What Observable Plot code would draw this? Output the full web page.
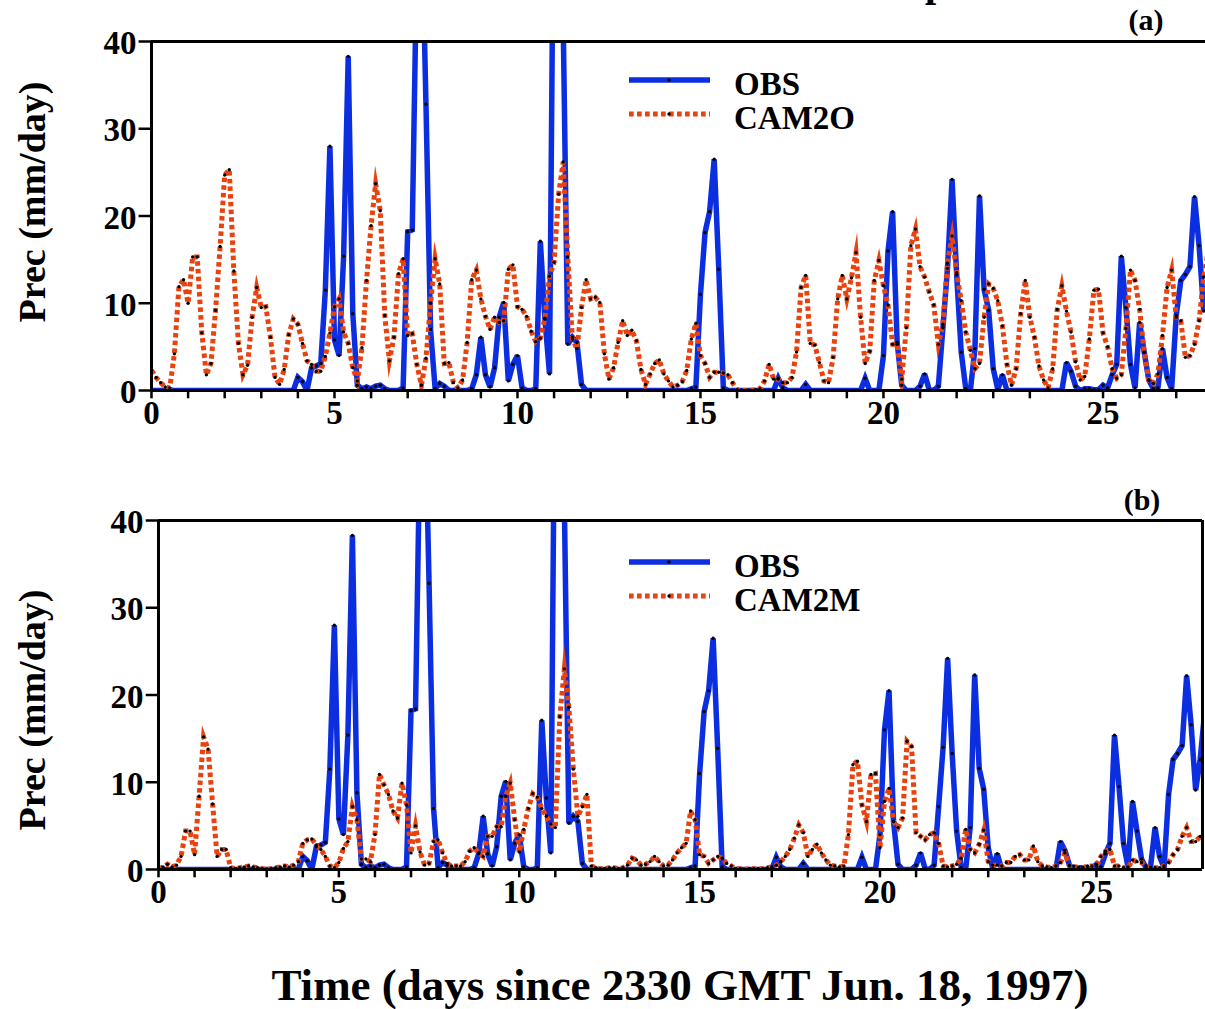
<!DOCTYPE html>
<html>
<head>
<meta charset="utf-8">
<script src="https://cdn.jsdelivr.net/npm/d3@7"></script>
<script src="https://cdn.jsdelivr.net/npm/@observablehq/plot@0.6"></script>
<style>
  body { margin: 0; background: #fff; }
  #wrap { position: relative; width: 1205px; height: 1009px; overflow: hidden; background: #fff; }
  #wrap > svg { position: absolute; left: 0; }
</style>
</head>
<body>
<div id="wrap"></div>
<script>
// ---------------- data (3-hourly precipitation, mm/day) ----------------
const stepDays = 3 / 24;   // one sample every 3 hours

const obs = [
  0,0,0,0,0,0,0,0,
  0,0,0,0,0,0,0,0,
  0,0,0,0,0,0,0,0,
  0,0,0,0,0,0,0,0,
  1.5,1.0,0,2.6,2.8,3.1,11.5,28.0,
  5.8,4.0,15.4,38.3,8.8,0.6,0.2,0.4,
  0.2,0.5,0.6,0.2,0,0,0,0.3,
  18.2,18.4,50,56,32.8,7.0,0.2,0.8,
  0.5,0,0,0,0,0,0.2,1.8,
  6.1,1.8,0.4,2.6,8.4,10.1,1.1,3.0,
  4.0,0.3,0,0,0.2,17.1,8.2,1.9,
  65,80,42,5.3,6.1,5.5,0.7,0,
  0,0,0,0,0,0,0,0,
  0,0,0,0,0,0,0,0,
  0,0,0,0,0,0,0.2,0.4,
  11.0,18.1,20.5,26.5,13.9,0.3,0,0,
  0,0,0,0,0,0,0,0,
  0,1.4,0.3,0,0,0,0,0.7,
  0,0,0,0,0,0,0,0,
  0,0,0,0,1.4,0,0,0,
  4.0,16.0,20.5,5.5,0.6,0,0,0,
  0.5,1.9,0.1,0,0.5,7.2,14.0,24.2,
  13.3,4.4,0.2,0,4.8,22.3,11.6,9.2,
  2.5,0.1,1.8,0,0,0,0,0,
  0,0,0,0,0,0,0,0,
  3.2,2.2,0.5,0,0.2,0.2,0.1,0.1,
  0.6,0.3,1.8,3.0,15.4,9.5,3.0,0.3,
  7.8,4.4,1.2,0.2,0.3,4.8,1.5,0.2,
  8.6,12.6,13.3,14.2,22.2,16.6,9.1,12.6,
  18.0
];

const cam2o = [
  2.3,1.5,0.9,0.4,0.3,4.2,11.9,12.7,
  10.0,15.3,15.3,6.6,1.8,3.1,9.2,16.5,
  24.7,25.3,13.7,5.4,1.8,2.9,8.4,11.8,
  9.5,9.6,6.1,1.5,0.7,2.4,6.4,8.2,
  7.6,5.4,3.4,3.0,2.2,2.2,3.9,6.6,
  9.6,10.5,6.7,5.4,2.6,1.1,4.9,12.6,
  18.9,23.7,20.6,8.6,3.4,6.1,13.4,15.1,
  6.3,6.5,3.0,0.6,3.7,10.0,15.1,12.2,
  3.1,3.2,0.9,0.3,1.2,5.5,12.7,13.8,
  10.5,8.5,7.0,8.4,7.8,8.0,13.9,14.4,
  9.6,9.3,8.5,6.8,5.6,6.0,8.3,13.1,
  14.7,22.5,26.2,15.3,5.9,4.8,9.5,12.7,
  10.5,10.7,10.1,4.2,1.3,2.6,5.5,8.0,
  6.3,6.9,5.7,2.4,0.7,1.9,3.1,3.5,
  1.9,1.1,0.4,0.6,1.0,2.3,5.9,7.7,
  4.0,3.1,1.5,2.1,2.1,2.0,1.8,0.9,
  0.1,0,0,0,0.1,0.2,1.1,3.0,
  1.3,1.3,0.9,0.9,1.5,4.4,11.8,13.2,
  5.4,5.2,3.2,1.1,0.9,3.8,10.5,13.2,
  10.5,12.9,15.8,8.4,3.1,4.5,12.6,14.9,
  12.0,9.8,5.3,5.3,1.3,7.2,16.6,18.5,
  14.2,13.0,11.3,9.8,5.3,7.6,14.6,17.7,
  13.5,10.3,6.7,4.6,2.5,3.1,8.4,12.2,
  11.7,10.3,7.4,3.0,0.6,2.5,8.8,12.6,
  8.4,6.1,2.8,1.2,0.3,2.5,9.3,12.0,
  9.1,6.7,3.3,1.2,1.6,5.9,11.5,11.6,
  6.6,5.0,2.5,1.4,1.8,7.1,13.8,12.6,
  9.3,4.4,1.2,0.8,1.9,6.3,11.8,13.8,
  8.4,8.0,3.8,4.0,5.3,8.0,13.0,16.0,
  15.0
];

const cam2m = [
  0.1,0.3,0.6,0.3,0.5,1.5,4.4,4.4,
  1.7,8.4,15.2,13.8,7.5,1.5,2.3,2.3,
  0.2,0.1,0.2,0.3,0.4,0.3,0.2,0.1,
  0,0.1,0.2,0.3,0.4,0.3,0.5,0.9,
  3.0,3.4,3.5,2.8,2.3,1.5,0.4,0.2,
  0.8,2.4,3.2,7.2,5.7,1.2,1.2,0.9,
  4.0,10.9,9.7,8.6,6.7,5.9,9.9,7.4,
  1.9,5.0,2.0,0.5,0.7,3.2,3.4,1.9,
  0.7,0.4,0.4,0.4,0.9,2.1,2.5,1.9,
  1.5,3.8,3.8,4.9,4.9,8.4,9.9,5.7,
  2.0,4.6,7.0,8.7,8.3,7.0,6.1,5.2,
  4.8,17.5,23.0,18.6,11.5,6.1,7.2,8.6,
  0.4,0.2,0.1,0.1,0.2,0.2,0.1,0.2,
  0.5,1.3,1.1,0.5,0.6,0.9,1.5,0.9,
  0.4,0.5,1.1,1.9,2.5,3.0,6.7,5.7,
  1.7,1.5,0.7,1.1,1.5,1.3,0.7,0.4,
  0.1,0.1,0,0.1,0.1,0.1,0.1,0.2,
  0.3,0.5,0.9,1.5,2.3,3.6,5.1,4.2,
  1.5,2.3,2.9,1.9,1.1,0.5,0.4,0.3,
  0.4,4.0,12.0,12.4,7.4,5.5,10.9,11.0,
  2.5,7.8,9.3,5.5,4.8,5.9,14.7,14.1,
  4.2,3.8,3.4,4.0,4.2,3.0,0.4,0.3,
  0.4,0.6,1.3,4.6,2.3,1.9,2.9,4.5,
  0.9,0.5,0.5,0.4,0.8,0.8,1.5,1.7,
  1.1,1.1,2.7,0.9,0.4,0.3,0.2,0.4,
  0.8,1.9,0.4,0.4,0.2,0.2,0.4,0.4,
  0.4,1.5,2.1,2.3,0.4,0.4,0.2,0.2,
  1.1,0.9,0.8,0.4,0.2,0.2,0.2,0.4,
  0.8,1.7,2.3,3.8,4.8,3.2,3.2,3.8,
  4.0
];

const yTicks = [0, 10, 20, 30, 40];
const xMinorTicks = [0,1,2,3,4,5,6,7,8,9,10,11,12,13,14,15,16,17,18,19,20,21,22,23,24,26,27,28];
const xTickLabelPos = [0, 5, 10, 15, 20, 26];
const xTickLabels = ["0", "5", "10", "15", "20", "25"];
const seriesNames = { obs: "OBS", a: "CAM2O", b: "CAM2M" };
const panelTags = ["(a)", "(b)"];
const yTitle = "Prec (mm/day)";
const xTitle = "Time (days since 2330 GMT Jun. 18, 1997)";
const titleText = "Precipitation";

// ---------------- style ----------------
const BLUE = "#0b2ee0";
const RED = "#e8430f";
const FONT = '"Liberation Serif", "Times New Roman", serif';

function panel(model, xMax, marginLeft, marginRight, marginTop, rightBorder) {
  const rows = obs.map((v, i) => ({ t: i * stepDays, obs: v, model: model[i] }));
  const labelRows = xTickLabelPos.map((p, i) => ({ p, s: xTickLabels[i] }));
  const marks = [
    Plot.line(rows, { x: "t", y: "obs", stroke: BLUE, strokeWidth: 5.5, strokeLinejoin: "miter", strokeMiterlimit: 3, strokeLinecap: "butt", clip: true }),
    Plot.line(rows, { x: "t", y: "model", stroke: RED, strokeWidth: 5, strokeDasharray: "4.5,3.2", strokeLinejoin: "miter", strokeMiterlimit: 10, strokeLinecap: "butt", clip: true }),
    Plot.dot(rows, { x: "t", y: "obs", r: 1.7, fill: "black", stroke: null, clip: true }),
    Plot.dot(rows, { x: "t", y: "model", r: 1.7, fill: "black", stroke: null, clip: true }),
    Plot.ruleY([0, 40], { stroke: "black", strokeWidth: 3 }),
    Plot.ruleX([0], { stroke: "black", strokeWidth: 3 }),
    Plot.ruleX(xMinorTicks, { x: d => d, y1: 0, y2: -0.95, stroke: "black", strokeWidth: 2.5 }),
    Plot.ruleY(yTicks, { y: d => d, x1: -0.34, x2: 0, stroke: "black", strokeWidth: 2.5 }),
    Plot.text(labelRows, { x: "p", y: 0, text: "s", lineAnchor: "top", dy: 10, fontSize: 33, fontWeight: "bold", fontFamily: FONT, fill: "black" }),
    Plot.text(yTicks, { x: 0, y: d => d, text: d => String(d), textAnchor: "end", dx: -15, dy: 2, fontSize: 33, fontWeight: "bold", fontFamily: FONT, fill: "black" })
  ];
  if (rightBorder) marks.push(Plot.ruleX([xMax], { stroke: "black", strokeWidth: 3 }));
  return Plot.plot({
    width: 1205,
    height: marginTop + 349 + 50,
    marginTop, marginBottom: 50, marginLeft, marginRight,
    x: { domain: [0, xMax], axis: null },
    y: { domain: [0, 40], axis: null },
    style: { background: "transparent", overflow: "visible" },
    marks
  });
}

const wrap = document.getElementById("wrap");
const pa = panel(cam2o, 28.8, 151, 0, 41, false);
pa.style.top = "0px";
wrap.appendChild(pa);
const pb = panel(cam2m, 28.94, 158, 3, 40, true);
pb.style.top = "480px";
wrap.appendChild(pb);

// ---------------- overlay: legends, tags, axis titles ----------------
const ov = d3.select(wrap).append("svg")
  .attr("width", 1205).attr("height", 1009)
  .style("top", "0px").style("pointer-events", "none")
  .attr("font-family", FONT).attr("font-weight", "bold");

// figure title, cut by the top edge of the page as in the original figure
const title = ov.append("text").attr("y", -4).attr("font-size", 40).text(titleText);
const pOffset = title.node().getSubStringLength(0, 5);
title.attr("x", 925 - pOffset);

function legend(yTop, modelName) {
  const g = ov.append("g");
  g.append("line").attr("x1", 629).attr("x2", 710).attr("y1", yTop).attr("y2", yTop)
    .attr("stroke", BLUE).attr("stroke-width", 5.5);
  g.append("circle").attr("cx", 669).attr("cy", yTop).attr("r", 1.7).attr("fill", "black");
  g.append("line").attr("x1", 629).attr("x2", 710).attr("y1", yTop + 34).attr("y2", yTop + 34)
    .attr("stroke", RED).attr("stroke-width", 5).attr("stroke-dasharray", "4.7,3.3");
  g.append("circle").attr("cx", 669).attr("cy", yTop + 34).attr("r", 1.7).attr("fill", "black");
  g.append("text").attr("x", 734).attr("y", yTop + 15).attr("font-size", 33).text(seriesNames.obs);
  g.append("text").attr("x", 734).attr("y", yTop + 49).attr("font-size", 33).text(modelName);
}
legend(80, seriesNames.a);
legend(562, seriesNames.b);

ov.append("text").attr("x", 1146).attr("y", 30).attr("font-size", 30).attr("text-anchor", "middle").text(panelTags[0]);
ov.append("text").attr("x", 1142).attr("y", 510).attr("font-size", 30).attr("text-anchor", "middle").text(panelTags[1]);

[202, 710].forEach(cy => {
  ov.append("text")
    .attr("transform", `translate(32,${cy}) rotate(-90)`)
    .attr("text-anchor", "middle").attr("dominant-baseline", "central")
    .attr("font-size", 38).text(yTitle);
});

ov.append("text").attr("x", 680).attr("y", 1000).attr("text-anchor", "middle")
  .attr("font-size", 45).text(xTitle);
</script>
</body>
</html>
